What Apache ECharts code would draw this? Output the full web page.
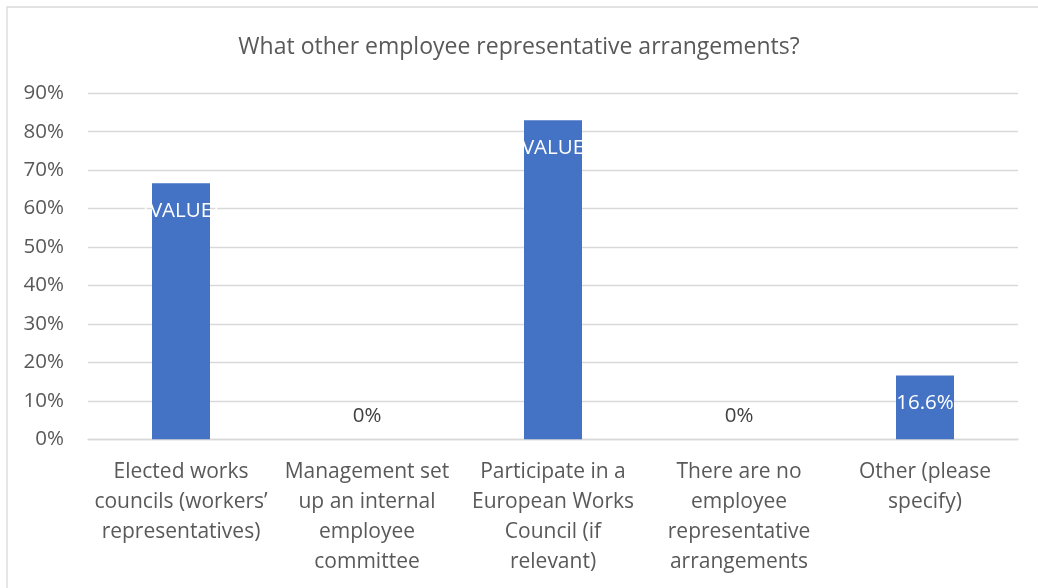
<!DOCTYPE html>
<html>
<head>
<meta charset="utf-8">
<style>
  html, body { margin: 0; padding: 0; background: #ffffff; }
  #chart { width: 1038px; height: 588px; }
</style>
<script src="https://cdn.jsdelivr.net/npm/echarts@6/dist/echarts.min.js"></script>
</head>
<body>
<div id="chart"></div>
<script>
// Survey answers and their shares (percent)
const categories = [
  'Elected works\ncouncils (workers’\nrepresentatives)',
  'Management set\nup an internal\nemployee\ncommittee',
  'Participate in a\nEuropean Works\nCouncil (if\nrelevant)',
  'There are no\nemployee\nrepresentative\narrangements',
  'Other (please\nspecify)'
];
const shares = [66.6, 0, 83.0, 0, 16.6];
// Text printed on each bar
const barLabels = ['[VALUE]', '0%', '[VALUE]', '0%', '16.6%'];
const yTicks = [0, 10, 20, 30, 40, 50, 60, 70, 80, 90];

const FONT = '"Open Sans", "Noto Sans", sans-serif';
const TEXT_GREY = '#595959';
const LINE_GREY = '#d9d9d9';

const chart = echarts.init(document.getElementById('chart'), null, { renderer: 'canvas' });

// Empty bars get their label above the baseline, filled bars get it inside the top
const seriesData = shares.map(function (v) {
  return {
    value: v,
    label: v === 0
      ? { position: 'top', distance: 13, color: '#404040' }
      : { position: 'insideTop', distance: 17, color: '#ffffff' }
  };
});

chart.setOption({
  animation: false,
  backgroundColor: '#ffffff',
  textStyle: { fontFamily: FONT },
  graphic: [{
    type: 'rect',
    silent: true,
    shape: { x: 7, y: 7, width: 1200, height: 800 },
    style: { fill: 'none', stroke: LINE_GREY, lineWidth: 1.3 }
  }],
  title: {
    text: 'What other employee representative arrangements?',
    left: 'center',
    top: 31,
    textStyle: { fontFamily: FONT, fontSize: 23, fontWeight: 'normal', color: TEXT_GREY }
  },
  grid: { left: 88, right: 20, top: 93.3, bottom: 148.7, containLabel: false },
  xAxis: {
    type: 'category',
    data: categories,
    axisLine: { show: true, lineStyle: { color: LINE_GREY, width: 1.3 } },
    axisTick: { show: false },
    axisLabel: {
      interval: 0,
      margin: 18,
      fontFamily: FONT,
      fontSize: 21,
      lineHeight: 30,
      color: TEXT_GREY,
      align: 'center'
    }
  },
  yAxis: {
    type: 'value',
    min: yTicks[0],
    max: yTicks[yTicks.length - 1],
    interval: 10,
    axisLine: { show: false },
    axisTick: { show: false },
    splitLine: { lineStyle: { color: LINE_GREY, width: 1.3 } },
    axisLabel: {
      margin: 24,
      fontFamily: FONT,
      fontSize: 20.5,
      color: TEXT_GREY,
      formatter: function (v) { return v + '%'; }
    }
  },
  series: [{
    type: 'bar',
    data: seriesData,
    barWidth: 58,
    itemStyle: { color: '#4472C4' },
    label: {
      show: true,
      fontFamily: FONT,
      fontSize: 20.5,
      formatter: function (p) { return barLabels[p.dataIndex]; }
    }
  }]
});
</script>
</body>
</html>
